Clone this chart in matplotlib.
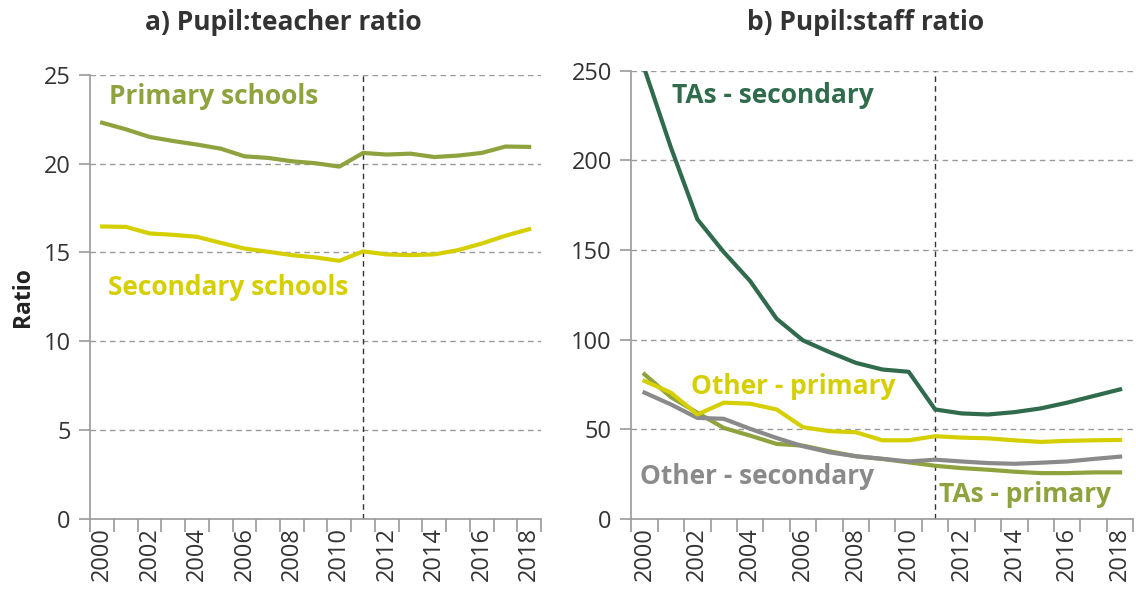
import numpy as np
import matplotlib.pyplot as plt

plt.rcParams['font.family'] = ['Open Sans', 'DejaVu Sans']

years = list(range(2000, 2019))

# a) pupil:teacher ratio
primary_teacher = [22.30, 21.93, 21.50, 21.27, 21.07, 20.84, 20.41, 20.32, 20.13, 20.02,
                   19.83, 20.60, 20.51, 20.56, 20.37, 20.45, 20.60, 20.96, 20.94]
secondary_teacher = [16.46, 16.44, 16.07, 15.99, 15.88, 15.54, 15.22, 15.04, 14.85, 14.72,
                     14.53, 15.06, 14.89, 14.85, 14.89, 15.13, 15.50, 15.94, 16.31]

# b) pupil:staff ratio
tas_secondary = [251.0, 207.2, 167.2, 148.9, 132.7, 111.7, 99.6, 93.1, 87.1, 83.4,
                 82.1, 61.1, 58.9, 58.3, 59.6, 61.7, 64.9, 68.6, 72.3]
other_primary = [77.0, 70.5, 58.3, 64.9, 64.3, 61.1, 51.2, 49.0, 48.4, 43.9,
                 43.9, 46.2, 45.4, 45.0, 43.9, 43.0, 43.6, 43.9, 44.1]
tas_primary = [80.7, 68.0, 59.3, 50.8, 46.5, 41.9, 40.9, 37.8, 35.0, 33.5,
               31.6, 29.7, 28.4, 27.5, 26.4, 25.6, 25.6, 26.0, 26.0]
other_secondary = [70.5, 63.9, 56.4, 55.9, 50.3, 45.2, 40.6, 37.2, 35.0, 33.6,
                   32.1, 33.1, 32.1, 31.2, 30.8, 31.4, 32.1, 33.5, 34.8]

OLIVE = '#8ea23e'
YELLOW = '#d5cf00'
DARK = '#2f6b4c'
GREY = '#8a8a8a'
AXIS = '#9a9a9a'

fig = plt.figure(figsize=(11.36, 5.89), dpi=100)
ax1 = fig.add_axes([0.0795, 0.1188, 0.3967, 0.7543])
ax2 = fig.add_axes([0.5557, 0.1188, 0.4419, 0.7611])

x = np.arange(len(years))


def style(ax, ymax, step):
    ax.set_xlim(-0.5, len(years) - 0.5)
    ax.set_ylim(0, ymax)
    ax.set_yticks(np.arange(0, ymax + 1, step))
    ax.set_xticks(x[::2])
    ax.set_xticklabels([str(y) for y in years[::2]], rotation=90)
    ax.set_xticks(np.arange(-0.5, len(years)), minor=True)
    ax.tick_params(axis='x', which='major', length=0, labelsize=17, pad=6, colors='#333333')
    ax.tick_params(axis='x', which='minor', length=9, width=1.2, color=AXIS)
    ax.tick_params(axis='y', length=8, width=1.2, color=AXIS, labelsize=17,
                   labelcolor='#333333', pad=6)
    for s in ['top', 'right']:
        ax.spines[s].set_visible(False)
    for s in ['left', 'bottom']:
        ax.spines[s].set_color(AXIS)
        ax.spines[s].set_linewidth(1.2)
    ax.yaxis.grid(True, color=AXIS, linestyle=(0, (4, 3)), linewidth=1)
    ax.set_axisbelow(True)
    ax.axvline(years.index(2011), color='#333333', linestyle=(0, (4, 3)), linewidth=1)


style(ax1, 25, 5)
style(ax2, 250, 50)

lw = 3
fs = 19
ax1.plot(x, primary_teacher, color=OLIVE, lw=lw, clip_on=False)
ax1.plot(x, secondary_teacher, color=YELLOW, lw=lw, clip_on=False)
ax1.text(0.3, 23.8, 'Primary schools', color=OLIVE, fontsize=fs, fontweight='bold', va='center')
ax1.text(0.23, 13.0, 'Secondary schools', color=YELLOW, fontsize=fs, fontweight='bold', va='center')
ax1.set_ylabel('Ratio', fontsize=16.5, fontweight='bold', color='#222222', labelpad=6)

ax2.plot(x, tas_primary, color=OLIVE, lw=lw)
ax2.plot(x, other_secondary, color=GREY, lw=lw)
ax2.plot(x, other_primary, color=YELLOW, lw=lw)
ax2.plot(x, tas_secondary, color=DARK, lw=lw)
ax2.text(1.03, 236.4, 'TAs - secondary', color=DARK, fontsize=fs, fontweight='bold', va='center')
ax2.text(1.76, 73.8, 'Other - primary', color=YELLOW, fontsize=fs, fontweight='bold', va='center')
ax2.text(-0.18, 23.7, 'Other - secondary', color=GREY, fontsize=fs, fontweight='bold', va='center')
ax2.text(11.13, 13.5, 'TAs - primary', color=OLIVE, fontsize=fs, fontweight='bold', va='center')

fig.text(283 / 1136, 1 - 22 / 589, 'a) Pupil:teacher ratio', ha='center', va='center',
         fontsize=19, fontweight='bold', color='#333333')
fig.text(866 / 1136, 1 - 22 / 589, 'b) Pupil:staff ratio', ha='center', va='center',
         fontsize=19, fontweight='bold', color='#333333')

fig.savefig('out.png', dpi=100)
